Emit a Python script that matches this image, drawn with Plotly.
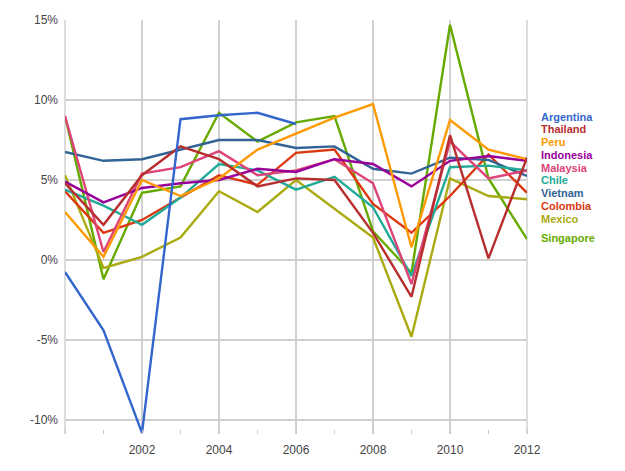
import plotly.graph_objects as go

years = list(range(2000, 2013))

argentina = [-0.75, -4.4, -10.8, 8.8, 9.05, 9.2, 8.5, None, None, None, None, None, None]
thailand = [4.8, 2.2, 5.3, 7.1, 6.3, 4.6, 5.1, 5.0, 1.7, -2.3, 7.8, 0.1, 6.4]
peru = [3.0, 0.2, 5.0, 4.0, 5.1, 6.9, 7.9, 8.9, 9.75, 0.8, 8.75, 6.9, 6.3]
indonesia = [4.9, 3.6, 4.5, 4.8, 5.0, 5.7, 5.5, 6.3, 6.0, 4.6, 6.2, 6.5, 6.2]
malaysia = [9.0, 0.5, 5.4, 5.8, 6.8, 5.3, 5.6, 6.3, 4.8, -1.5, 7.4, 5.1, 5.6]
chile = [4.4, 3.4, 2.2, 3.9, 6.0, 5.6, 4.4, 5.2, 3.3, -1.0, 5.8, 5.9, 5.6]
vietnam = [6.75, 6.2, 6.3, 6.9, 7.5, 7.5, 7.0, 7.1, 5.7, 5.4, 6.4, 6.25, 5.25]
colombia = [4.3, 1.7, 2.5, 3.9, 5.3, 4.7, 6.7, 6.9, 3.5, 1.7, 4.0, 6.6, 4.2]
mexico = [5.3, -0.5, 0.2, 1.4, 4.3, 3.0, 5.0, 3.2, 1.4, -4.8, 5.1, 4.0, 3.8]
singapore = [9.0, -1.2, 4.2, 4.6, 9.2, 7.4, 8.6, 9.0, 1.8, -0.8, 14.7, 5.1, 1.3]

names = ["Argentina", "Thailand", "Peru", "Indonesia", "Malaysia", "Chile",
         "Vietnam", "Colombia", "Mexico", "Singapore"]
series = [argentina, thailand, peru, indonesia, malaysia, chile,
          vietnam, colombia, mexico, singapore]
colors = ["#3366cc", "#b82e2e", "#ff9900", "#990099", "#dd4477", "#22aa99",
          "#316395", "#dc3912", "#aaaa11", "#66aa00"]

y_ticks = [-10, -5, 0, 5, 10, 15]
y_tick_labels = ["-10%", "-5%", "0%", "5%", "10%", "15%"]
x_ticks = [2002, 2004, 2006, 2008, 2010, 2012]

# legend label vertical positions (page pixel rows)
legend_rows = [117, 129.5, 142, 155, 167.5, 180, 193, 206, 218.5, 238]

fig = go.Figure()
order = [9, 8, 7, 6, 5, 4, 3, 2, 1, 0]
for i in order:
    fig.add_trace(go.Scatter(
        x=years, y=series[i], mode="lines", name=names[i],
        line=dict(color=colors[i], width=2.4), connectgaps=False,
        showlegend=False))

# page body has an 8px margin, so the figure is offset by 8px
OFF = 8
W, H = 617, 463
L, R, T, B = 57, 98, 12, 37
plot_h = H - T - B
plot_w = W - L - R
for name, col, row in zip(names, colors, legend_rows):
    fig.add_annotation(
        xref="paper", yref="paper",
        x=(539 - OFF - L) / plot_w, y=(H - B - (row - OFF)) / plot_h,
        xanchor="left", yanchor="middle", showarrow=False,
        text="<b>%s</b>" % name,
        font=dict(family="Liberation Sans, Arial, sans-serif", size=11, color=col))

fig.update_layout(
    width=W, height=H,
    margin=dict(l=L, r=R, t=T, b=B, autoexpand=False),
    paper_bgcolor="white", plot_bgcolor="white",
    font=dict(family="Liberation Sans, Arial, sans-serif", size=12, color="#444444"),
    showlegend=False,
)
fig.update_xaxes(
    range=[2000, 2012], tickvals=x_ticks, ticktext=[str(v) for v in x_ticks],
    showgrid=True, gridcolor="#d0d0d0", gridwidth=1.5,
    zeroline=False, showline=False, ticks="", automargin=False,
    ticklabelstandoff=7,
    minor=dict(dtick=1, tick0=2001, ticks="inside", ticklen=4, tickcolor="#c8c8c8",
               showgrid=False),
    tickfont=dict(size=12, color="#444444"),
)
fig.update_yaxes(
    range=[-10.875, 15], tickvals=y_ticks, ticktext=y_tick_labels,
    showgrid=True, gridcolor="#d0d0d0", gridwidth=1.5,
    zeroline=False, showline=False, ticks="", automargin=False,
    ticklabelstandoff=6,
    tickfont=dict(size=12, color="#444444"),
)
fig.add_shape(type="line", xref="paper", yref="paper", x0=0, x1=0, y0=0, y1=1,
              line=dict(color="#d0d0d0", width=1.5), layer="below")
fig.add_shape(type="line", xref="paper", yref="paper", x0=1, x1=1, y0=0, y1=1,
              line=dict(color="#d0d0d0", width=1.5), layer="below")

fig.write_html("out.html")
